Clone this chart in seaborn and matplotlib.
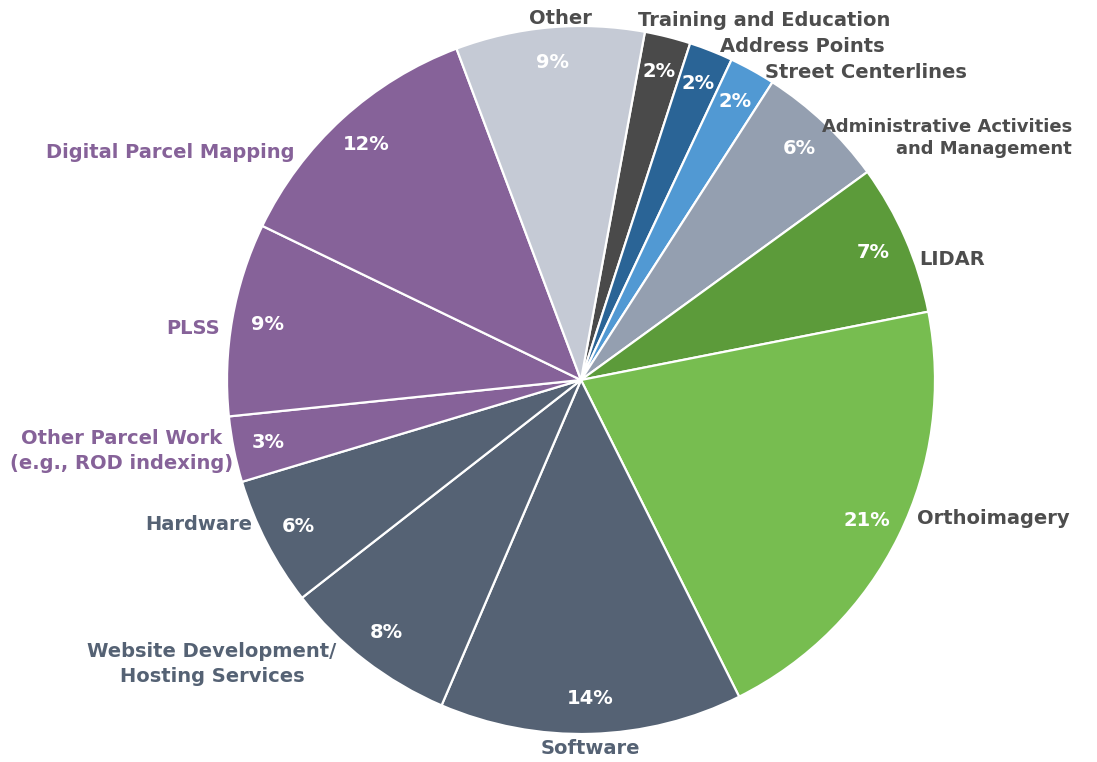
import matplotlib
matplotlib.use("Agg")
import matplotlib.pyplot as plt
import seaborn as sns
import numpy as np

# slice data, clockwise starting at "Training and Education"
categories = [
    "Training and Education", "Address Points", "Street Centerlines",
    "Administrative Activities\nand Management", "LIDAR", "Orthoimagery",
    "Software", "Website Development/\nHosting Services", "Hardware",
    "Other Parcel Work\n(e.g., ROD indexing)", "PLSS", "Digital Parcel Mapping",
    "Other",
]
shares = [2.1, 2.0, 2.1, 5.9, 6.9, 20.7, 13.8, 8.0, 5.9, 3.0, 8.8, 12.1, 8.6]
pct_labels = ["2%", "2%", "2%", "6%", "7%", "21%", "14%", "8%", "6%", "3%", "9%", "12%", "9%"]

slice_colors = ["#4a4a4a", "#2a6496", "#5199d3", "#949fb0", "#5c9b3a", "#77bd50",
                "#556274", "#556274", "#556274", "#866299", "#866299", "#866299",
                "#c5cad5"]
label_colors = ["#4d4d4d", "#4d4d4d", "#4d4d4d", "#4d4d4d", "#4d4d4d", "#4d4d4d",
                "#556274", "#556274", "#556274", "#866299", "#866299", "#866299",
                "#4d4d4d"]

# label placement in pixels (x, y, ha, multialign, size) -- layout only
W, H = 1097, 762
CX, CY, R = 581, 380, 354
label_pos = [
    (638, 20, "left", "left", 14), (720, 47, "left", "left", 14),
    (765, 72, "left", "left", 14), (1072, 138, "right", "right", 13),
    (919, 259, "left", "left", 14), (917, 519, "left", "left", 14),
    (590, 748, "center", "center", 14), (212, 664, "center", "center", 14),
    (252, 524, "right", "right", 14), (122, 451, "center", "center", 14),
    (220, 328, "right", "right", 14), (294, 152, "right", "right", 14),
    (560, 18, "center", "center", 14),
]

sns.set_theme(style="white")
plt.rcParams["font.family"] = ["DejaVu Sans"]

fig = plt.figure(figsize=(W / 100, H / 100), dpi=100)
ax = fig.add_axes([0, 0, 1, 1])

wedges, _, autotexts = ax.pie(
    shares,
    colors=slice_colors,
    startangle=90 - 10.4,
    counterclock=False,
    radius=1,
    autopct="%1.0f%%",
    pctdistance=0.9,
    wedgeprops={"edgecolor": "white", "linewidth": 1.6},
    textprops={"color": "white", "fontsize": 14, "fontweight": "bold"},
)
for t, s in zip(autotexts, pct_labels):
    t.set_text(s)

for name, col, (px, py, ha, ma, fs) in zip(categories, label_colors, label_pos):
    ax.text((px - CX) / R, (CY - py) / R, name, ha=ha, va="center",
            multialignment=ma, color=col, fontsize=fs, fontweight="bold",
            linespacing=1.35)

ax.set_xlim(-CX / R, (W - CX) / R)
ax.set_ylim(-(H - CY) / R, CY / R)
ax.set_aspect("equal", adjustable="datalim")
ax.axis("off")

fig.savefig("out.png", dpi=100, facecolor="white")
